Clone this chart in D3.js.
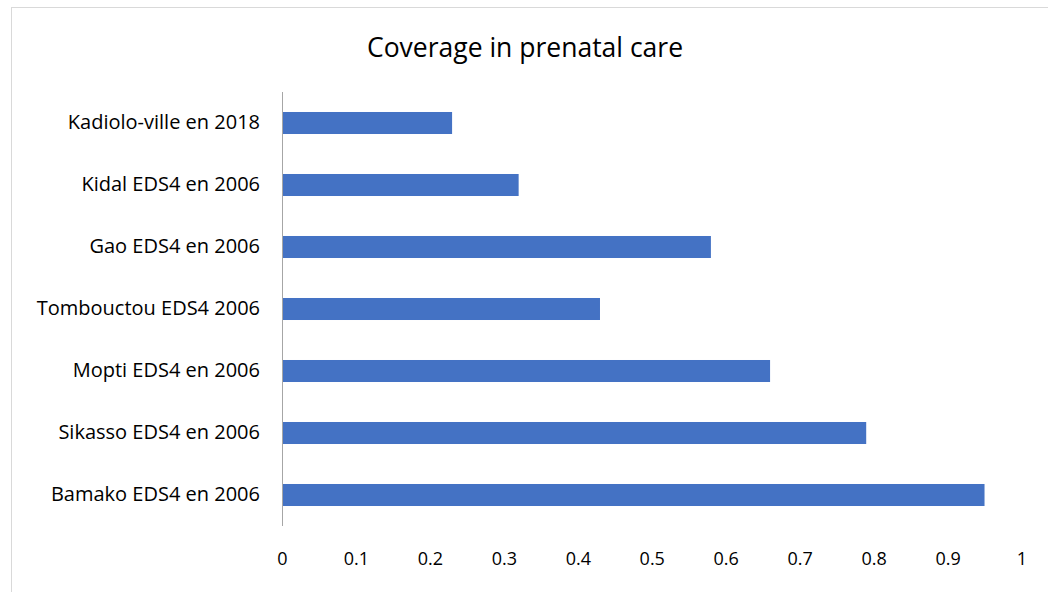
<!DOCTYPE html>
<html>
<head>
<meta charset="utf-8">
<script src="https://cdn.jsdelivr.net/npm/d3@7"></script>
<style>
  body { margin: 0; background: #fff; }
  text { font-family: 'Open Sans', sans-serif; fill: #000; }
</style>
</head>
<body>
<div id="chart"></div>
<script>
  let regions = ['Kadiolo-ville en 2018', 'Kidal EDS4 en 2006', 'Gao EDS4 en 2006', 'Tombouctou EDS4 2006',
                 'Mopti EDS4 en 2006', 'Sikasso EDS4 en 2006', 'Bamako EDS4 en 2006'];
  let coverage = [0.23, 0.32, 0.58, 0.43, 0.66, 0.79, 0.95];
  let ticks = [0, 0.1, 0.2, 0.3, 0.4, 0.5, 0.6, 0.7, 0.8, 0.9, 1];

  let w = 1048;
  let h = 592;

  let xScale = d3.scaleLinear()
                 .domain([0, 1])
                 .range([282, 1021.5]);
  let yScale = d3.scaleBand()
                 .domain(regions)
                 .range([92, 526])
                 .paddingInner(0.645)
                 .paddingOuter(0.3225);

  let svg = d3.select('#chart')
              .append('svg')
              .attr('width', w)
              .attr('height', h);

  // chart border
  svg.append('rect')
     .attr('x', 11.5)
     .attr('y', 7.5)
     .attr('width', w + 10)
     .attr('height', h + 10)
     .attr('fill', 'none')
     .attr('stroke', '#d9d9d9');

  svg.append('text')
     .attr('x', 525)
     .attr('y', 57)
     .attr('text-anchor', 'middle')
     .style('font-size', '26.5px')
     .text('Coverage in prenatal care');

  svg.selectAll('.bar')
     .data(regions)
     .enter()
     .append('rect')
     .attr('class', 'bar')
     .attr('x', xScale(0))
     .attr('y', (d) => yScale(d))
     .attr('width', (d, i) => xScale(coverage[i]) - xScale(0))
     .attr('height', yScale.bandwidth())
     .attr('fill', '#4472c4');

  // category axis
  let yAxis = d3.axisLeft(yScale).tickSize(0).tickPadding(22);
  let gy = svg.append('g')
              .attr('transform', 'translate(' + xScale(0) + ', 0)')
              .call(yAxis);
  gy.select('.domain').attr('stroke', '#a6a6a6').attr('d', 'M0.5,92V526');
  gy.selectAll('text').style('font-size', '20px').style('font-family', "'Open Sans', sans-serif");

  // value axis labels, no line
  let xAxis = d3.axisBottom(xScale).tickValues(ticks).tickSize(0).tickPadding(0).tickFormat(d3.format('~g'));
  let gx = svg.append('g')
              .attr('transform', 'translate(0, 552)')
              .call(xAxis);
  gx.select('.domain').remove();
  gx.selectAll('text').style('font-size', '18px').style('font-family', "'Open Sans', sans-serif");
</script>
</body>
</html>
